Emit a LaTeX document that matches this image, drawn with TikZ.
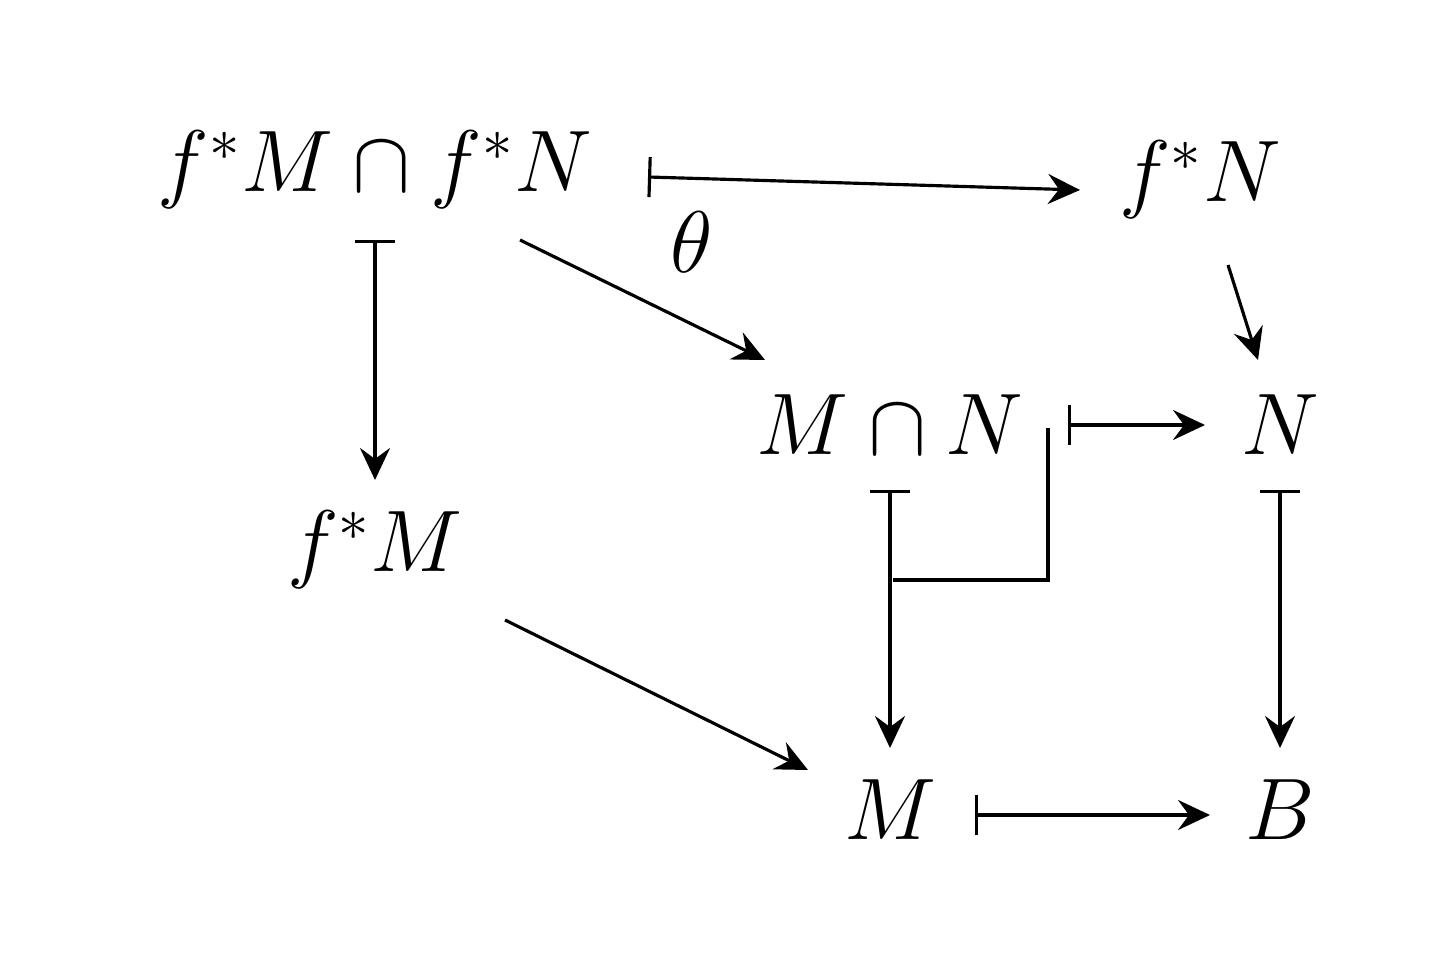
\documentclass[tikz,border=0pt]{standalone}
\usetikzlibrary{arrows.meta}
\begin{document}
\begin{tikzpicture}[x=1cm,y=1cm,line width=0.9pt,
  obj/.style={font=\fontsize{25}{30}\selectfont},
  to/.style={-{Stealth[length=3.2mm,width=3mm,inset=1.1mm]}},
  mapsto/.style={{Bar[width=4mm]}-{Stealth[length=3.2mm,width=3mm,inset=1.1mm]}}]
\useasboundingbox (0,0) rectangle (14.5,9.67);

% Objects
\node[obj] (fMfN) at (3.75,7.97) {$f^*M\cap f^*N$};
\node[obj] (fN) at (12,7.87) {$f^*N$};
\node[obj] (MN) at (8.9,5.42) {$M\cap N$};
\node[obj] (N) at (12.8,5.42) {$N$};
\node[obj] (fM) at (3.75,4.17) {$f^*M$};
\node[obj] (M) at (8.9,1.57) {$M$};
\node[obj] (B) at (12.8,1.57) {$B$};

% Arrow ends
\coordinate (a1) at (6.48,7.9);
\coordinate (a2) at (10.8,7.77);
\coordinate (b1) at (3.75,7.27);
\coordinate (b2) at (3.75,4.87);
\coordinate (c1) at (5.2,7.27);
\coordinate (c2) at (7.65,6.07);
\coordinate (d1) at (12.28,7.02);
\coordinate (d2) at (12.58,6.07);
\coordinate (e1) at (10.68,5.42);
\coordinate (e2) at (12.05,5.42);
\coordinate (f1) at (8.9,4.77);
\coordinate (f2) at (8.9,2.19);
\coordinate (g1) at (12.8,4.77);
\coordinate (g2) at (12.8,2.19);
\coordinate (h1) at (5.05,3.47);
\coordinate (h2) at (8.08,1.97);
\coordinate (k1) at (9.75,1.52);
\coordinate (k2) at (12.1,1.52);
\coordinate (j1) at (8.93,3.87);
\coordinate (j2) at (10.48,5.39);

% Arrows
\draw[mapsto] (a1) -- node[obj,pos=0.1,below=2mm] {$\theta$} (a2);
\draw[mapsto] (b1) -- (b2);
\draw[to] (c1) -- (c2);
\draw[to] (d1) -- (d2);
\draw[mapsto] (e1) -- (e2);
\draw[mapsto] (f1) -- (f2);
\draw (j1) -| (j2);
\draw[mapsto] (g1) -- (g2);
\draw[to] (h1) -- (h2);
\draw[mapsto] (k1) -- (k2);
\end{tikzpicture}
\end{document}
